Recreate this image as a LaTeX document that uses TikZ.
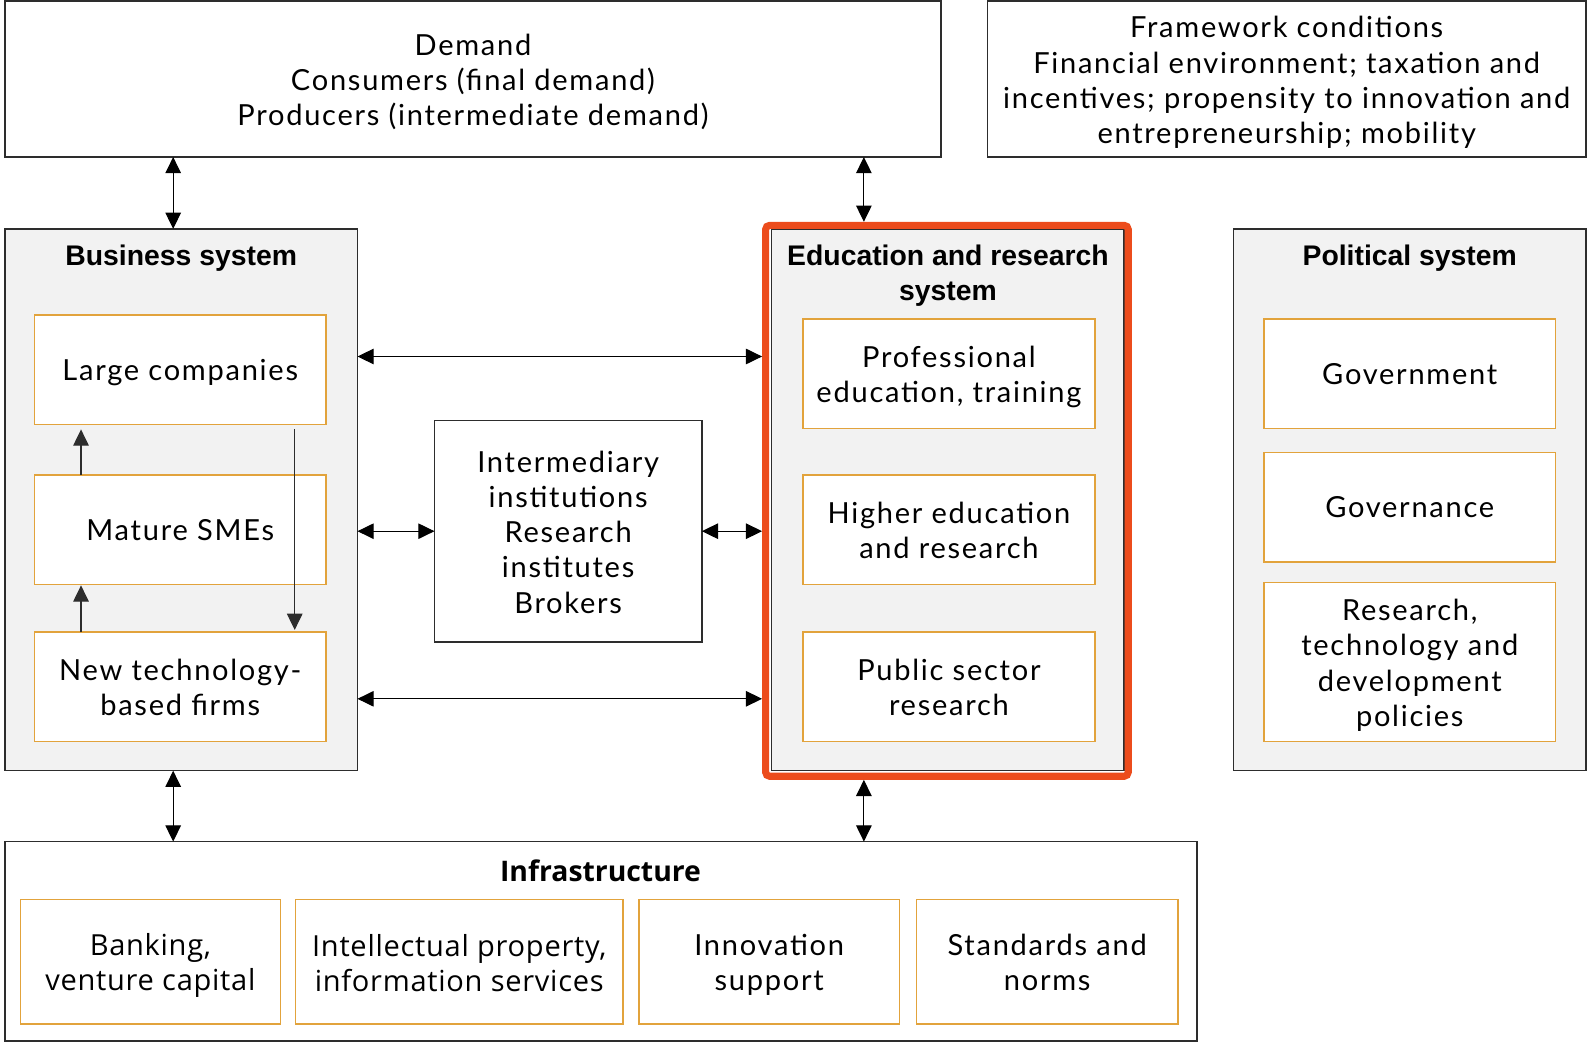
\documentclass[tikz,border=0pt]{standalone}
\usepackage{fontspec}
\setmainfont{Lato}[LetterSpace=6]
\newfontfamily\headfont{Liberation Sans}
\newfontfamily\infrafont{Open Sans}[LetterSpace=2.5]
\newfontfamily\infrahead{Open Sans}
\usetikzlibrary{arrows.meta}

\definecolor{boxgold}{RGB}{226,163,60}
\definecolor{sysgray}{RGB}{242,242,242}
\definecolor{framered}{RGB}{236,76,28}
\definecolor{edgegray}{RGB}{45,45,45}

\def\px{0.75pt}
\newcommand{\txtstrut}{\rule[-4.6pt]{0pt}{24.6pt}}
\tikzset{every picture/.style={line width=0.75pt}}
\tikzset{
	bodytext/.style={font=\fontsize{21.5}{26}\selectfont, align=center, text=black,
		execute at begin node=\txtstrut, execute at end node=\txtstrut},
	multitext/.style={bodytext, yshift=-3pt},
	headtext/.style={font=\headfont\bfseries\fontsize{21}{26}\selectfont, align=center},
	outerbox/.style={draw=edgegray, line width=1.1pt, anchor=north west, inner sep=0pt, outer sep=0pt},
	sysbox/.style={outerbox, fill=sysgray},
	goldbox/.style={draw=boxgold, line width=1.1pt, fill=white, anchor=north west, inner sep=0pt, outer sep=0pt},
	redframe/.style={draw=framered, line width=5.25pt, rounded corners=3pt, anchor=north west, inner sep=0pt},
	dbl/.style={{Triangle[length=12pt,width=11.5pt]}-{Triangle[length=12pt,width=11.5pt]}, line width=0.8pt},
	sgl/.style={-{Triangle[length=12pt,width=11.5pt]}, line width=0.8pt, draw=edgegray},
}

\begin{document}
\begin{tikzpicture}[x=0.75pt,y=0.75pt,yscale=-1,xscale=1]
	\useasboundingbox (0,0) rectangle (1568,1029);

	%Demand and framework conditions
	\node[outerbox, minimum width=924*\px, minimum height=154*\px] (demand) at (5,1) {};
	\node[multitext] at (demand.center) {Demand\\Consumers (final demand)\\Producers (intermediate demand)};
	\node[outerbox, minimum width=591*\px, minimum height=154*\px] (frame) at (975,1) {};
	\node[multitext] at (frame.center) {Framework conditions\\Financial environment; taxation and\\incentives; propensity to innovation and\\entrepreneurship; mobility};

	%Business system
	\node[sysbox, minimum width=348*\px, minimum height=535*\px] (bus) at (5,226) {};
	\node[headtext] at (179,255) {Business system};
	\node[goldbox, minimum width=288*\px, minimum height=108*\px] (lrg) at (34,311) {};
	\node[bodytext] at (lrg.center) {Large companies};
	\node[goldbox, minimum width=288*\px, minimum height=108*\px] (sme) at (34,469) {};
	\node[bodytext] at (sme.center) {Mature SMEs};
	\node[goldbox, minimum width=288*\px, minimum height=108*\px] (ntbf) at (34,624) {};
	\node[multitext] at (ntbf.center) {New technology-\\based firms};

	%Intermediaries
	\node[outerbox, fill=white, minimum width=264*\px, minimum height=219*\px] (inter) at (429,415) {};
	\node[multitext] at (inter.center) {Intermediary\\institutions\\Research\\institutes\\Brokers};

	%Education and research system
	\node[sysbox, minimum width=348*\px, minimum height=535*\px] (edu) at (762,226) {};
	\node[headtext] at (936,272) {Education and research\\system};
	\node[goldbox, minimum width=288*\px, minimum height=108*\px] (pro) at (793,315) {};
	\node[multitext] at (pro.center) {Professional\\education, training};
	\node[goldbox, minimum width=288*\px, minimum height=108*\px] (her) at (793,469) {};
	\node[multitext] at (her.center) {Higher education\\and research};
	\node[goldbox, minimum width=288*\px, minimum height=108*\px] (psr) at (793,624) {};
	\node[multitext] at (psr.center) {Public sector\\research};
	\node[redframe, minimum width=358*\px, minimum height=544*\px] (erf) at (752.5,219) {};

	%Political system
	\node[sysbox, minimum width=348*\px, minimum height=535*\px] (pol) at (1218,226) {};
	\node[headtext] at (1392,255) {Political system};
	\node[goldbox, minimum width=288*\px, minimum height=108*\px] (gov) at (1248,315) {};
	\node[bodytext] at (gov.center) {Government};
	\node[goldbox, minimum width=288*\px, minimum height=108*\px] (gvn) at (1248,447) {};
	\node[bodytext] at (gvn.center) {Governance};
	\node[goldbox, minimum width=288*\px, minimum height=157*\px] (rtd) at (1248,575) {};
	\node[multitext] at (rtd.center) {Research,\\technology and\\development\\policies};

	%Infrastructure
	\node[outerbox, minimum width=1177*\px, minimum height=197*\px] (infra) at (5,831) {};
	\node[font=\infrahead\bfseries\fontsize{21}{26}\selectfont] at (593,860) {Infrastructure};
	\node[goldbox, minimum width=257*\px, minimum height=123*\px] (bank) at (20,888) {};
	\node[multitext, font=\infrafont\fontsize{21.5}{26}\selectfont] at (bank.center) {Banking,\\venture capital};
	\node[goldbox, minimum width=323*\px, minimum height=123*\px] (ipr) at (292,888) {};
	\node[multitext, font=\infrafont\fontsize{21.5}{26}\selectfont] at (ipr.center) {Intellectual property,\\information services};
	\node[goldbox, minimum width=257*\px, minimum height=123*\px] (inno) at (631,888) {};
	\node[multitext] at (inno.center) {Innovation\\support};
	\node[goldbox, minimum width=258*\px, minimum height=123*\px] (std) at (905,888) {};
	\node[multitext] at (std.center) {Standards and\\norms};

	%Arrows between systems
	\draw[dbl] (demand.south -| 171,0) -- (bus.north -| 171,0);
	\draw[dbl] (bus.south -| 171,0) -- (infra.north -| 171,0);
	\draw[dbl] (demand.south -| 853,0) -- (erf.north -| 853,0);
	\draw[dbl] (bus.east |- 0,352) -- (erf.west |- 0,352);
	\draw[dbl] (bus.east |- 0,690) -- (erf.west |- 0,690);
	\draw[dbl] (bus.east |- inter.west) -- (inter.west);
	\draw[dbl] (inter.east) -- (erf.west |- inter.east);
	\draw[dbl] (erf.south -| 853,0) -- (infra.north -| 853,0);

	%Arrows inside business system
	\draw[sgl, shorten >=5*\px] (sme.north -| 80,0) -- (lrg.south -| 80,0);
	\draw[sgl, shorten >=1*\px] (ntbf.north -| 80,0) -- (sme.south -| 80,0);
	\draw[sgl, shorten <=5*\px, shorten >=2*\px] (lrg.south -| 291,0) -- (ntbf.north -| 291,0);
\end{tikzpicture}
\end{document}
